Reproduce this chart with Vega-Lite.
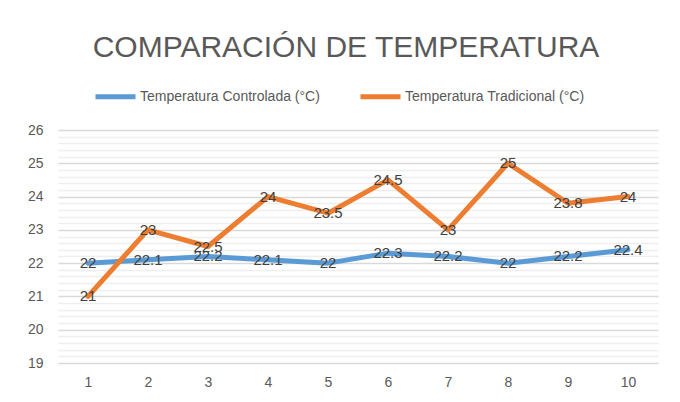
{
  "$schema": "https://vega.github.io/schema/vega-lite/v6.json",
  "width": 600,
  "height": 233,
  "autosize": {"type": "none"},
  "padding": {"left": 58, "top": 130, "right": 22, "bottom": 39},
  "background": "white",
  "title": {
    "text": "COMPARACIÓN DE TEMPERATURA",
    "font": "Liberation Sans",
    "fontSize": 30,
    "fontWeight": "normal",
    "color": "#595959",
    "anchor": "middle",
    "dx": -12,
    "offset": 11
  },
  "data": {
    "values": [
      {"x": 1, "serie": "Temperatura Controlada (°C)", "t": 22},
      {"x": 2, "serie": "Temperatura Controlada (°C)", "t": 22.1},
      {"x": 3, "serie": "Temperatura Controlada (°C)", "t": 22.2},
      {"x": 4, "serie": "Temperatura Controlada (°C)", "t": 22.1},
      {"x": 5, "serie": "Temperatura Controlada (°C)", "t": 22},
      {"x": 6, "serie": "Temperatura Controlada (°C)", "t": 22.3},
      {"x": 7, "serie": "Temperatura Controlada (°C)", "t": 22.2},
      {"x": 8, "serie": "Temperatura Controlada (°C)", "t": 22},
      {"x": 9, "serie": "Temperatura Controlada (°C)", "t": 22.2},
      {"x": 10, "serie": "Temperatura Controlada (°C)", "t": 22.4},
      {"x": 1, "serie": "Temperatura Tradicional (°C)", "t": 21},
      {"x": 2, "serie": "Temperatura Tradicional (°C)", "t": 23},
      {"x": 3, "serie": "Temperatura Tradicional (°C)", "t": 22.5},
      {"x": 4, "serie": "Temperatura Tradicional (°C)", "t": 24},
      {"x": 5, "serie": "Temperatura Tradicional (°C)", "t": 23.5},
      {"x": 6, "serie": "Temperatura Tradicional (°C)", "t": 24.5},
      {"x": 7, "serie": "Temperatura Tradicional (°C)", "t": 23},
      {"x": 8, "serie": "Temperatura Tradicional (°C)", "t": 25},
      {"x": 9, "serie": "Temperatura Tradicional (°C)", "t": 23.8},
      {"x": 10, "serie": "Temperatura Tradicional (°C)", "t": 24}
    ]
  },
  "encoding": {
    "x": {
      "field": "x",
      "type": "ordinal",
      "scale": {"type": "point", "padding": 0.5},
      "axis": {
        "title": null,
        "labelAngle": 0,
        "domain": false,
        "ticks": false,
        "grid": false,
        "labelPadding": 12,
        "labelFont": "Liberation Sans",
        "labelFontSize": 14,
        "labelColor": "#595959"
      }
    },
    "y": {
      "field": "t",
      "type": "quantitative",
      "scale": {"domain": [19, 26], "nice": false, "zero": false},
      "axis": {
        "title": null,
        "values": [19, 19.2, 19.4, 19.6, 19.8, 20, 20.2, 20.4, 20.6, 20.8, 21, 21.2, 21.4, 21.6, 21.8, 22, 22.2, 22.4, 22.6, 22.8, 23, 23.2, 23.4, 23.6, 23.8, 24, 24.2, 24.4, 24.6, 24.8, 25, 25.2, 25.4, 25.6, 25.8, 26],
        "labelExpr": "abs(datum.value - round(datum.value)) < 0.01 ? format(datum.value, 'd') : ''",
        "domain": false,
        "ticks": false,
        "grid": true,
        "gridColor": {"condition": {"test": "abs(datum.value - round(datum.value)) < 0.01", "value": "#d9d9d9"}, "value": "#eeeeee"},
        "gridWidth": 1.3,
        "labelPadding": 15,
        "labelFont": "Liberation Sans",
        "labelFontSize": 14,
        "labelColor": "#595959"
      }
    }
  },
  "layer": [
    {
      "mark": {"type": "line", "strokeWidth": 5, "strokeCap": "round", "strokeJoin": "round"},
      "encoding": {
        "color": {
          "field": "serie",
          "type": "nominal",
          "sort": ["Temperatura Controlada (°C)", "Temperatura Tradicional (°C)"],
          "scale": {"range": ["#5B9BD5", "#ED7D31"]},
          "legend": {
            "title": null,
            "orient": "none",
            "direction": "horizontal",
            "legendX": 35,
            "legendY": -56,
            "symbolType": "stroke",
            "symbolSize": 1600,
            "symbolStrokeWidth": 5,
            "labelOffset": 2,
            "labelLimit": 0,
            "columnPadding": 30,
            "labelFont": "Liberation Sans",
            "labelFontSize": 14,
            "labelColor": "#595959"
          }
        }
      }
    },
    {
      "mark": {"type": "text", "font": "Liberation Sans", "fontSize": 15, "color": "#404040", "align": "center", "baseline": "middle"},
      "encoding": {
        "text": {"field": "t", "type": "quantitative"},
        "detail": {"field": "serie"}
      }
    }
  ],
  "config": {"view": {"stroke": null}}
}
